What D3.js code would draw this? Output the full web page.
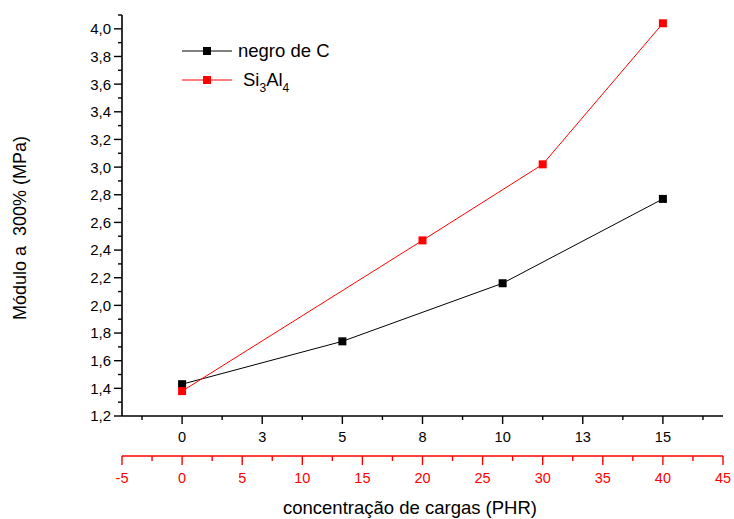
<!DOCTYPE html>
<html>
<head>
<meta charset="utf-8">
<script src="https://cdn.jsdelivr.net/npm/d3@7"></script>
<style>
  html, body { margin: 0; padding: 0; background: #fff; }
  svg { display: block; font-family: "Liberation Sans", Arial, sans-serif; }
</style>
</head>
<body>
<svg id="chart" width="734" height="519"></svg>
<script>
// Carbon black loading (PHR) and modulus at 300 %
const carbonPHR = [0, 5, 10, 15];
const carbonModulus = [1.43, 1.74, 2.16, 2.77];

// Si3Al4 loading (PHR) and modulus at 300 %
const siAlPHR = [0, 20, 30, 40];
const siAlModulus = [1.38, 2.47, 3.02, 4.04];

// Axis ticks
const yTicks = [1.2, 1.4, 1.6, 1.8, 2.0, 2.2, 2.4, 2.6, 2.8, 3.0, 3.2, 3.4, 3.6, 3.8, 4.0];
const blackTicks = [0, 2.5, 5, 7.5, 10, 12.5, 15];
const blackTickLabels = ["0", "3", "5", "8", "10", "13", "15"];
const redTicks = [-5, 0, 5, 10, 15, 20, 25, 30, 35, 40, 45];

const svg = d3.select("#chart");
const plotLeft = 122, plotRight = 723, plotTop = 15, plotBottom = 416, redAxisY = 456;

const y = d3.scaleLinear().domain([1.2, 4.1]).range([plotBottom, plotTop]);
const xBlack = d3.scaleLinear().domain([-1.875, 16.875]).range([plotLeft, plotRight]);
const xRed = d3.scaleLinear().domain([-5, 45]).range([plotLeft, plotRight]);

const comma = v => d3.format(".1f")(v).replace(".", ",");

// Y axis
const yAxis = svg.append("g").attr("transform", `translate(${plotLeft},0)`);
yAxis.append("line").attr("x1", 0).attr("x2", 0).attr("y1", plotTop).attr("y2", plotBottom)
  .attr("stroke", "#000").attr("stroke-width", 1.6);
const yMinor = d3.range(1.3, 4.11, 0.2);
yAxis.selectAll(".ymin").data(yMinor).join("line")
  .attr("x1", -4).attr("x2", 0).attr("y1", d => y(d)).attr("y2", d => y(d))
  .attr("stroke", "#000").attr("stroke-width", 1.4);
yAxis.selectAll(".ymaj").data(yTicks).join("line")
  .attr("x1", -8).attr("x2", 0).attr("y1", d => y(d)).attr("y2", d => y(d))
  .attr("stroke", "#000").attr("stroke-width", 1.4);
yAxis.selectAll(".ylab").data(yTicks).join("text")
  .attr("x", -11).attr("y", d => y(d)).attr("dy", "0.36em")
  .attr("text-anchor", "end").attr("font-size", 15).attr("fill", "#000")
  .text(comma);

// Bottom black axis
const xb = svg.append("g").attr("transform", `translate(0,${plotBottom})`);
xb.append("line").attr("x1", plotLeft).attr("x2", plotRight).attr("y1", 0).attr("y2", 0)
  .attr("stroke", "#000").attr("stroke-width", 1.6);
xb.selectAll(".xbmin").data(d3.range(-1.25, 16.9, 2.5)).join("line")
  .attr("x1", d => xBlack(d)).attr("x2", d => xBlack(d)).attr("y1", 0).attr("y2", 4)
  .attr("stroke", "#000").attr("stroke-width", 1.4);
xb.selectAll(".xbmaj").data(blackTicks).join("line")
  .attr("x1", d => xBlack(d)).attr("x2", d => xBlack(d)).attr("y1", 0).attr("y2", 8)
  .attr("stroke", "#000").attr("stroke-width", 1.4);
xb.selectAll(".xblab").data(blackTicks).join("text")
  .attr("x", d => xBlack(d)).attr("y", 26)
  .attr("text-anchor", "middle").attr("font-size", 14.5).attr("fill", "#000")
  .text((d, i) => blackTickLabels[i]);

// Bottom red axis
const xr = svg.append("g").attr("transform", `translate(0,${redAxisY})`);
xr.append("line").attr("x1", plotLeft).attr("x2", plotRight).attr("y1", 0).attr("y2", 0)
  .attr("stroke", "#f00").attr("stroke-width", 1.4);
xr.selectAll(".xrmin").data(d3.range(-2.5, 45, 5)).join("line")
  .attr("x1", d => xRed(d)).attr("x2", d => xRed(d)).attr("y1", 0).attr("y2", 5)
  .attr("stroke", "#f00").attr("stroke-width", 1.4);
xr.selectAll(".xrmaj").data(redTicks).join("line")
  .attr("x1", d => xRed(d)).attr("x2", d => xRed(d)).attr("y1", 0).attr("y2", 9)
  .attr("stroke", "#f00").attr("stroke-width", 1.4);
xr.selectAll(".xrlab").data(redTicks).join("text")
  .attr("x", d => xRed(d)).attr("y", 27)
  .attr("text-anchor", "middle").attr("font-size", 14.5).attr("fill", "#f00")
  .text(d => d);

// Axis titles
svg.append("text").attr("x", 410).attr("y", 514).attr("text-anchor", "middle")
  .attr("font-size", 18.5).attr("fill", "#000").text("concentração de cargas (PHR)");
svg.append("text").attr("transform", "translate(26,228) rotate(-90)")
  .attr("text-anchor", "middle").attr("font-size", 18).attr("fill", "#000")
  .style("white-space", "pre")
  .text("Módulo a  300% (MPa)");

// Series
const series = [
  { xs: carbonPHR, ys: carbonModulus, scale: xBlack, color: "#000" },
  { xs: siAlPHR, ys: siAlModulus, scale: xRed, color: "#f00" }
];
series.forEach(s => {
  const pts = s.xs.map((v, i) => [s.scale(v), y(s.ys[i])]);
  svg.append("path").attr("d", d3.line()(pts))
    .attr("fill", "none").attr("stroke", s.color).attr("stroke-width", 1);
  svg.selectAll(null).data(pts).join("rect")
    .attr("x", d => d[0] - 4).attr("y", d => d[1] - 4)
    .attr("width", 8).attr("height", 8).attr("fill", s.color);
});

// Legend
const legend = svg.append("g");
[{ color: "#000", ly: 51 }, { color: "#f00", ly: 80 }].forEach(l => {
  legend.append("line").attr("x1", 182).attr("x2", 232).attr("y1", l.ly).attr("y2", l.ly)
    .attr("stroke", l.color).attr("stroke-width", 1);
  legend.append("rect").attr("x", 203).attr("y", l.ly - 4).attr("width", 8).attr("height", 8)
    .attr("fill", l.color);
});
legend.append("text").attr("x", 238).attr("y", 57).attr("font-size", 18.5).attr("fill", "#000")
  .text("negro de C");
const si = legend.append("text").attr("x", 243).attr("y", 86).attr("font-size", 18.5).attr("fill", "#000");
si.append("tspan").text("Si");
si.append("tspan").attr("font-size", 12).attr("dy", 6).text("3");
si.append("tspan").attr("dy", -6).text("Al");
si.append("tspan").attr("font-size", 12).attr("dy", 6).text("4");
</script>
</body>
</html>
